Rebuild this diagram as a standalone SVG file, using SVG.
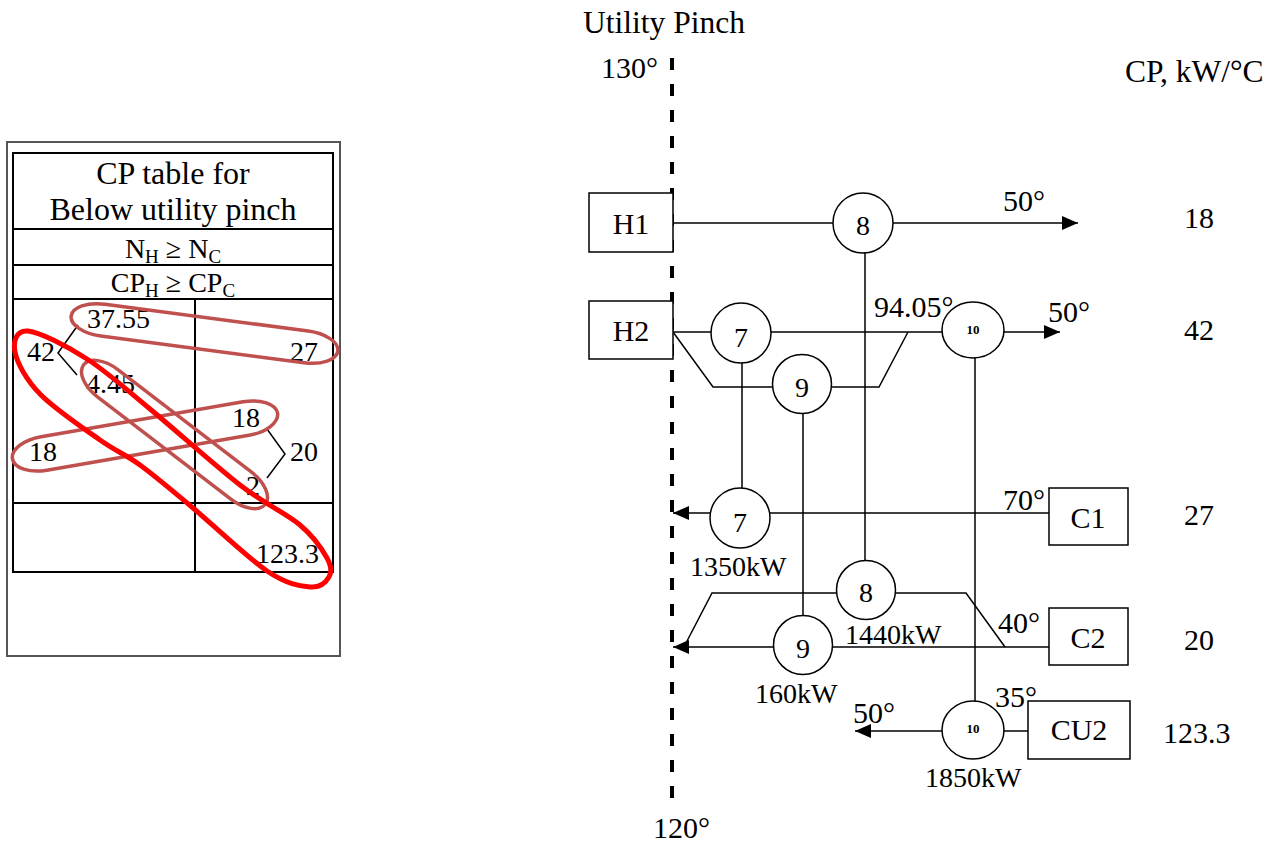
<svg xmlns="http://www.w3.org/2000/svg" width="1286" height="846" viewBox="0 0 1286 846">
<defs>
<style>
text{font-family:"Liberation Serif","Times New Roman",serif;fill:#000}
.t30{font-size:30px}
.t31{font-size:31.5px}
.t28{font-size:28px}
.t27{font-size:28px}
.t32{font-size:32px}
.t26{font-size:28px}
.num{font-size:28px;text-anchor:middle}
.n10{font-size:13px;font-weight:bold;text-anchor:middle}
.mid{text-anchor:middle}
.box{fill:#fff;stroke:#000;stroke-width:1.5}
.hx{fill:#fff;stroke:#000;stroke-width:1.5}
.ln{fill:none;stroke:#000;stroke-width:1.5}
.tb{fill:none;stroke:#000;stroke-width:2}
.loop{fill:none;stroke:#C0504D;stroke-width:3.5}
.loopR{fill:none;stroke:#FF0000;stroke-width:5}
</style>
<marker id="ah" viewBox="0 0 16 14" refX="16" refY="7" markerWidth="16" markerHeight="14" orient="auto" markerUnits="userSpaceOnUse">
<path d="M0,0 L16,7 L0,14 z" fill="#000"/>
</marker>
</defs>

<!-- Left CP table -->
<g id="cp-table">
<rect x="7" y="142" width="333" height="514" fill="none" stroke="#555" stroke-width="2"/>
<rect x="13" y="153" width="320" height="419" class="tb"/>
<line x1="13" y1="229" x2="333" y2="229" class="tb"/>
<line x1="13" y1="265" x2="333" y2="265" class="tb"/>
<line x1="13" y1="299" x2="333" y2="299" class="tb"/>
<line x1="13" y1="503" x2="333" y2="503" class="tb"/>
<line x1="195" y1="299" x2="195" y2="572" class="tb"/>
<text x="173" y="184" class="t32 mid">CP table for</text>
<text x="173" y="220" class="t32 mid">Below utility pinch</text>
<text x="173" y="258" class="t26 mid">N<tspan font-size="19" dy="5">H</tspan><tspan dy="-5"> ≥ N</tspan><tspan font-size="19" dy="5">C</tspan></text>
<text x="173" y="292" class="t26 mid">CP<tspan font-size="19" dy="5">H</tspan><tspan dy="-5"> ≥ CP</tspan><tspan font-size="19" dy="5">C</tspan></text>
<text x="87" y="328" class="t27">37.55</text>
<text x="27" y="361" class="t27">42</text>
<text x="290" y="361" class="t27">27</text>
<text x="86" y="393" class="t27">4.45</text>
<text x="232" y="427" class="t27">18</text>
<text x="29" y="461" class="t27">18</text>
<text x="290" y="461" class="t27">20</text>
<text x="246" y="495" class="t27">2</text>
<text x="256" y="563" class="t27">123.3</text>
<polyline points="78,325 58,353 77,375" class="ln"/>
<polyline points="267,429 285,454 267,478" class="ln"/>
<rect x="-134.5" y="-16" width="269" height="32" rx="32" ry="16" transform="translate(204.5,333.5) rotate(7.5)" class="loop"/>
<rect x="-134.5" y="-17" width="269" height="34" rx="32" ry="17" transform="translate(145,436) rotate(-9.8)" class="loop"/>
<rect x="-114.5" y="-17" width="229" height="34" rx="30" ry="17" transform="translate(174.5,434.5) rotate(37.5)" class="loop"/>
<path class="loopR" d="M28,331 C40,332.2 66.7,346 87,359 C107.3,372 124.5,388 150,409 C175.5,430 215,465.7 240,485 C265,504.3 285.5,512.8 300,525 C314.5,537.2 322.2,549.3 327,558 C331.8,566.7 331.8,572.2 329,577 C326.2,581.8 320.3,588 310,587 C299.7,586 286.5,584.2 267,571 C247.5,557.8 214.2,525.7 193,508 C171.8,490.3 155.5,476.3 140,465 C124.5,453.7 116.7,451.8 100,440 C83.3,428.2 54.2,408.7 40,394 C25.8,379.3 17,362.5 15,352 C13,341.5 16,329.8 28,331 Z"/>
</g>

<!-- Pinch line and labels -->
<g id="pinch">
<line x1="672" y1="58" x2="672" y2="810" stroke="#000" stroke-width="4" stroke-dasharray="12 14"/>
<text x="583" y="33" class="t31">Utility Pinch</text>
<text x="601" y="78" class="t30">130°</text>
<text x="653" y="838" class="t30">120°</text>
<text x="1125" y="82" class="t31">CP, kW/°C</text>
</g>

<!-- Connectors -->
<g id="connectors">
<path d="M673,223 H833" class="ln"/>
<path d="M893,223 H1078" class="ln" marker-end="url(#ah)"/>
<path d="M673,332 H711" class="ln"/>
<path d="M771,332 H942" class="ln"/>
<path d="M1004,332 H1060" class="ln" marker-end="url(#ah)"/>
<path d="M673,332 L713,387 H773" class="ln"/>
<path d="M832,387 H879 L908,332" class="ln"/>
<path d="M865,253 V561" class="ln"/>
<path d="M742,363 V489" class="ln"/>
<path d="M803,413 V616" class="ln"/>
<path d="M975,358 V701" class="ln"/>
<path d="M1049,513 H770" class="ln"/>
<path d="M710,513 H673" class="ln" marker-end="url(#ah)"/>
<path d="M1005,647 L966,593 H896" class="ln"/>
<path d="M836,593 H712 L686,643" class="ln"/>
<path d="M1049,647 H833" class="ln"/>
<path d="M773,647 H673" class="ln" marker-end="url(#ah)"/>
<path d="M1028,731 H1004" class="ln"/>
<path d="M942,731 H855" class="ln" marker-end="url(#ah)"/>
</g>

<!-- Stream boxes -->
<g id="H1"><rect x="589" y="193" width="84" height="59" class="box"/><text x="631" y="234" class="t30 mid">H1</text></g>
<g id="H2"><rect x="589" y="301" width="84" height="58" class="box"/><text x="631" y="341" class="t30 mid">H2</text></g>
<g id="C1"><rect x="1049" y="488" width="79" height="57" class="box"/><text x="1088" y="528" class="t30 mid">C1</text></g>
<g id="C2"><rect x="1049" y="608" width="79" height="57" class="box"/><text x="1088" y="648" class="t30 mid">C2</text></g>
<g id="CU2"><rect x="1028" y="701" width="102" height="58" class="box"/><text x="1079" y="740" class="t30 mid">CU2</text></g>

<!-- Exchangers -->
<g id="E8-hot"><circle cx="863" cy="223" r="30" class="hx"/><text x="863" y="235" class="num">8</text></g>
<g id="E7-hot"><circle cx="741" cy="333" r="30" class="hx"/><text x="741" y="347" class="num">7</text></g>
<g id="E10-hot"><ellipse cx="973" cy="330" rx="31" ry="28" class="hx"/><text x="973" y="334" class="n10">10</text></g>
<g id="E9-hot"><circle cx="802" cy="384" r="29.5" class="hx"/><text x="802" y="397" class="num">9</text></g>
<g id="E7-cold"><circle cx="740" cy="518" r="30" class="hx"/><text x="740" y="532" class="num">7</text></g>
<g id="E8-cold"><circle cx="866" cy="590" r="29.5" class="hx"/><text x="866" y="602" class="num">8</text></g>
<g id="E9-cold"><circle cx="803" cy="645" r="29.5" class="hx"/><text x="803" y="658" class="num">9</text></g>
<g id="E10-cold"><ellipse cx="973" cy="730" rx="31" ry="29" class="hx"/><text x="973" y="733" class="n10">10</text></g>

<!-- Labels -->
<g id="labels">
<text x="1003" y="211" class="t30">50°</text>
<text x="1184" y="228" class="t30">18</text>
<text x="874" y="317" class="t30">94.05°</text>
<text x="1048" y="322" class="t30">50°</text>
<text x="1184" y="340" class="t30">42</text>
<text x="1003" y="510" class="t30">70°</text>
<text x="1184" y="525" class="t30">27</text>
<text x="690" y="576" class="t28">1350kW</text>
<text x="998" y="633" class="t30">40°</text>
<text x="845" y="644" class="t28">1440kW</text>
<text x="1184" y="650" class="t30">20</text>
<text x="755" y="703" class="t28">160kW</text>
<text x="995" y="707" class="t30">35°</text>
<text x="853" y="723" class="t30">50°</text>
<text x="1163" y="743" class="t30">123.3</text>
<text x="925" y="787" class="t28">1850kW</text>
</g>
</svg>
